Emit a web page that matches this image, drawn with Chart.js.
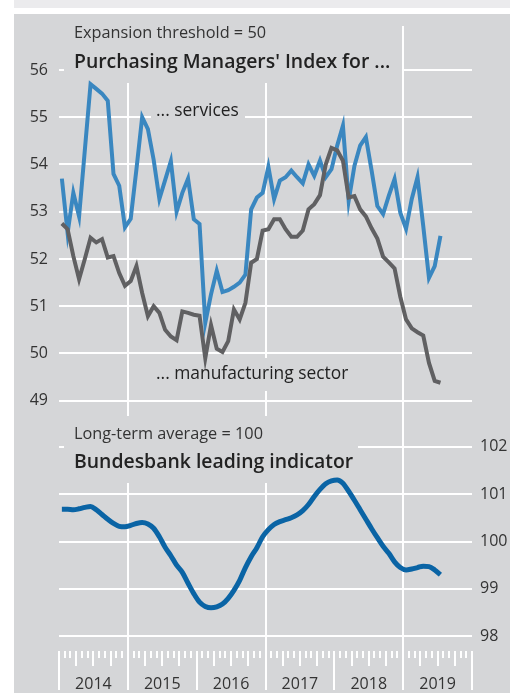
<!DOCTYPE html>
<html>
<head>
<meta charset="utf-8">
<script src="https://cdn.jsdelivr.net/npm/chart.js@4.4.1/dist/chart.umd.min.js"></script>
<style>
  body { margin: 0; background: #fff; }
  #band { position: absolute; left: 14px; top: 0; width: 496px; height: 8px; background: #ebebed; }
  #panel { position: absolute; left: 14px; top: 14px; width: 496px; height: 679px; background: #d5d6d8; }
  #wrap { position: absolute; left: 0; top: 0; width: 510px; height: 693px; }
</style>
</head>
<body>
<div id="band"></div>
<div id="panel"></div>
<div id="wrap"><canvas id="c"></canvas></div>
<script>
// monthly, Jan 2014 .. Jul 2019
const years = ["2014", "2015", "2016", "2017", "2018", "2019"];
const pmiTicks = [49, 50, 51, 52, 53, 54, 55, 56];
const leadTicks = [98, 99, 100, 101, 102];

const services = [53.7, 52.55, 53.4, 52.9, 54.3, 55.7, 55.6, 55.5, 55.35, 53.8,
  53.55, 52.67, 52.85, 53.9, 55.0, 54.75, 54.1, 53.27, 53.67, 54.07,
  53.0, 53.4, 53.7, 52.84, 52.74, 50.65, 51.25, 51.75, 51.3, 51.34,
  51.41, 51.5, 51.67, 53.05, 53.3, 53.4, 53.95, 53.27, 53.66, 53.73,
  53.87, 53.73, 53.6, 54.0, 53.76, 54.08, 53.73, 53.9, 54.4, 54.82,
  53.23, 53.97, 54.4, 54.58, 53.87, 53.12, 52.95, 53.34, 53.69, 52.98,
  52.64, 53.27, 53.73, 52.7, 51.6, 51.85, 52.49];

const manufacturing = [52.75, 52.63, 52.06, 51.57, 52.0, 52.45, 52.35, 52.42, 52.03, 52.06,
  51.7, 51.43, 51.53, 51.85, 51.28, 50.79, 51.0, 50.86, 50.5, 50.36,
  50.28, 50.89, 50.86, 50.82, 50.8, 49.9, 50.6, 50.1, 50.03, 50.26,
  50.93, 50.72, 51.07, 51.92, 52.0, 52.6, 52.63, 52.84, 52.84, 52.63,
  52.47, 52.47, 52.6, 53.05, 53.16, 53.35, 54.0, 54.35, 54.3, 54.08,
  53.3, 53.33, 53.05, 52.9, 52.65, 52.43, 52.05, 51.93, 51.8, 51.2,
  50.72, 50.53, 50.45, 50.38, 49.8, 49.42, 49.38];

const leading = [100.68, 100.68, 100.67, 100.69, 100.72, 100.74, 100.67, 100.57, 100.47, 100.38,
  100.32, 100.31, 100.34, 100.38, 100.4, 100.37, 100.28, 100.1, 99.88, 99.7,
  99.5, 99.35, 99.12, 98.9, 98.72, 98.63, 98.6, 98.62, 98.68, 98.8,
  98.97, 99.18, 99.45, 99.68, 99.87, 100.1, 100.25, 100.36, 100.42, 100.46,
  100.5, 100.56, 100.65, 100.78, 100.95, 101.1, 101.22, 101.28, 101.3, 101.23,
  101.06, 100.87, 100.67, 100.47, 100.27, 100.08, 99.9, 99.75, 99.57, 99.45,
  99.4, 99.42, 99.45, 99.48, 99.47, 99.4, 99.3];

const toPoints = arr => arr.map((v, i) => ({ x: i + 0.5, y: v }));

const PANEL = "#d5d6d8";
const TEXT = "#333";

// vertical grid, month ticks, label boxes
const decor = {
  id: "decor",
  beforeDatasetsDraw(chart) {
    const ctx = chart.ctx;
    const xs = chart.scales.x;
    const top = chart.chartArea.top;
    const bottom = chart.chartArea.bottom;
    ctx.save();
    ctx.strokeStyle = "#fff";
    ctx.lineWidth = 2;
    for (let m = 0; m <= years.length * 12; m++) {
      const px = Math.round(xs.getPixelForValue(m));
      let y0 = bottom, y1;
      if (m % 12 === 0) {
        y1 = 690;
        if (m % 24 === 12) y0 = top;
      } else if (m % 3 === 0) {
        y1 = 666;
      } else {
        y1 = 658;
      }
      ctx.beginPath();
      ctx.moveTo(px, y0);
      ctx.lineTo(px, y1);
      ctx.stroke();
    }

    ctx.fillStyle = PANEL;
    ctx.fillRect(64, 26, 338, 57);
    ctx.fillRect(151, 100, 94, 22);
    ctx.fillRect(151, 358, 204, 33);
    ctx.fillRect(64, 416, 294, 67);

    ctx.fillStyle = TEXT;
    ctx.textBaseline = "alphabetic";
    ctx.textAlign = "left";
    ctx.font = '16.3px "Open Sans"';
    ctx.fillText("Expansion threshold = 50", 74, 38);
    ctx.fillText("Long-term average = 100", 74, 439);
    ctx.fillStyle = "#222";
    ctx.font = '600 19.4px "Open Sans"';
    ctx.fillText("Purchasing Managers' Index for ...", 74, 68);
    ctx.fillText("Bundesbank leading indicator", 74, 468);
    ctx.font = '17.4px "Open Sans"';
    ctx.fillText("... services", 156, 116);
    ctx.fillText("... manufacturing sector", 156, 379);
    ctx.restore();
  }
};

new Chart(document.getElementById("c"), {
  type: "line",
  data: {
    datasets: [
      {
        label: "manufacturing",
        data: toPoints(manufacturing),
        yAxisID: "y",
        borderColor: "#606062",
        borderWidth: 4,
        pointRadius: 0,
        tension: 0
      },
      {
        label: "services",
        data: toPoints(services),
        yAxisID: "y",
        borderColor: "#3a87c0",
        borderWidth: 4,
        pointRadius: 0,
        tension: 0
      },
      {
        label: "leading indicator",
        data: toPoints(leading),
        yAxisID: "y2",
        borderColor: "#0a64a5",
        borderWidth: 5,
        pointRadius: 0,
        cubicInterpolationMode: "monotone"
      }
    ]
  },
  options: {
    responsive: true,
    maintainAspectRatio: false,
    animation: false,
    layout: { padding: { top: 26, left: 0, right: 0, bottom: 0 } },
    plugins: { legend: { display: false }, tooltip: { enabled: false } },
    scales: {
      x: {
        type: "linear",
        min: 0,
        max: years.length * 12,
        grid: { display: false, drawTicks: false },
        border: { display: false },
        afterBuildTicks: s => { s.ticks = years.map((y, i) => ({ value: i * 12 + 6 })); },
        afterFit: s => { s.height = 42; },
        ticks: {
          color: TEXT,
          font: { family: "Open Sans", size: 16 },
          padding: 24,
          maxRotation: 0,
          autoSkip: false,
          callback: (v, i) => years[i]
        }
      },
      y: {
        position: "left",
        min: 43.702,
        max: 56.931,
        grid: { color: "#fff", lineWidth: 2, drawTicks: false },
        border: { display: false },
        afterBuildTicks: s => { s.ticks = pmiTicks.map(v => ({ value: v })); },
        afterFit: s => { s.width = 59; },
        ticks: { color: TEXT, font: { family: "Open Sans", size: 16 }, padding: 11 }
      },
      y2: {
        position: "right",
        min: 97.69,
        max: 110.875,
        grid: { color: "#fff", lineWidth: 2, drawTicks: false },
        border: { display: false },
        afterBuildTicks: s => { s.ticks = leadTicks.map(v => ({ value: v })); },
        afterFit: s => { s.width = 38; },
        ticks: { color: TEXT, font: { family: "Open Sans", size: 16 }, padding: 8 }
      }
    }
  },
  plugins: [decor]
});
</script>
</body>
</html>
